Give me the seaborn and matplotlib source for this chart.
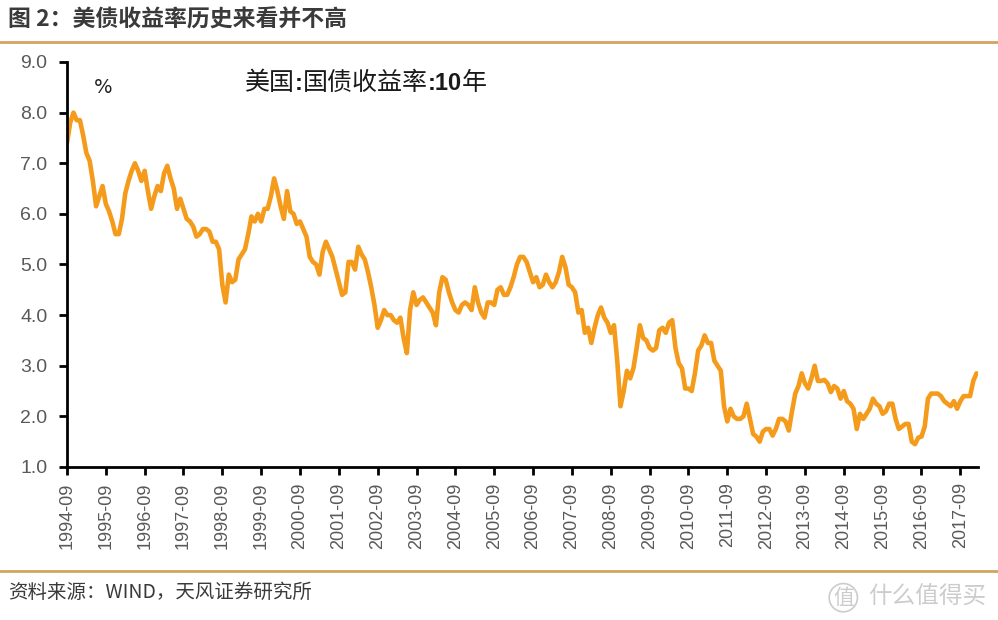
import numpy as np
import pandas as pd
import seaborn as sns
import matplotlib.pyplot as plt

# ---- data (US 10Y Treasury yield, %, monthly, 1994-09 .. 2018-02) ----
y1994 = [7.40, 7.80, 8.00, 7.85]
y1995 = [7.85, 7.55, 7.20, 7.05, 6.65, 6.15, 6.35, 6.55, 6.20, 6.05, 5.85, 5.60]
y1996 = [5.60, 5.90, 6.40, 6.65, 6.85, 7.00, 6.85, 6.65, 6.85, 6.45, 6.10, 6.35]
y1997 = [6.55, 6.45, 6.80, 6.95, 6.70, 6.50, 6.10, 6.30, 6.10, 5.90, 5.85, 5.75]
y1998 = [5.55, 5.60, 5.70, 5.70, 5.65, 5.45, 5.45, 5.30, 4.60, 4.25, 4.80, 4.65]
y1999 = [4.70, 5.10, 5.20, 5.30, 5.60, 5.95, 5.85, 6.00, 5.85, 6.10, 6.10, 6.35]
y2000 = [6.70, 6.45, 6.15, 5.90, 6.45, 6.05, 6.00, 5.80, 5.85, 5.70, 5.55, 5.15]
y2001 = [5.05, 5.00, 4.80, 5.25, 5.45, 5.30, 5.15, 4.90, 4.65, 4.40, 4.45, 5.05]
y2002 = [5.05, 4.90, 5.35, 5.20, 5.10, 4.85, 4.55, 4.20, 3.75, 3.90, 4.10, 4.00]
y2003 = [4.00, 3.90, 3.85, 3.95, 3.55, 3.25, 4.10, 4.45, 4.20, 4.30, 4.35, 4.25]
y2004 = [4.15, 4.05, 3.80, 4.45, 4.75, 4.70, 4.45, 4.25, 4.10, 4.05, 4.20, 4.25]
y2005 = [4.20, 4.10, 4.55, 4.25, 4.05, 3.95, 4.25, 4.25, 4.20, 4.50, 4.55, 4.40]
y2006 = [4.40, 4.55, 4.75, 5.00, 5.15, 5.15, 5.05, 4.85, 4.65, 4.75, 4.55, 4.60]
y2007 = [4.80, 4.65, 4.55, 4.65, 4.85, 5.15, 4.95, 4.60, 4.55, 4.45, 4.05, 4.10]
y2008 = [3.65, 3.75, 3.45, 3.75, 4.00, 4.15, 3.95, 3.85, 3.65, 3.80, 3.10, 2.20]
y2009 = [2.50, 2.90, 2.75, 2.95, 3.35, 3.80, 3.55, 3.50, 3.35, 3.30, 3.35, 3.70]
y2010 = [3.75, 3.65, 3.85, 3.90, 3.35, 3.05, 2.95, 2.55, 2.55, 2.50, 2.85, 3.30]
y2011 = [3.40, 3.60, 3.45, 3.45, 3.10, 3.00, 2.90, 2.20, 1.90, 2.15, 2.00, 1.95]
y2012 = [1.95, 2.00, 2.25, 1.95, 1.65, 1.60, 1.50, 1.70, 1.75, 1.75, 1.62, 1.75]
y2013 = [1.95, 1.95, 1.90, 1.72, 2.10, 2.45, 2.60, 2.85, 2.65, 2.55, 2.75, 3.00]
y2014 = [2.70, 2.70, 2.72, 2.65, 2.48, 2.60, 2.55, 2.35, 2.50, 2.30, 2.25, 2.15]
y2015 = [1.75, 2.05, 1.95, 2.05, 2.15, 2.35, 2.25, 2.20, 2.05, 2.10, 2.25, 2.25]
y2016 = [1.95, 1.75, 1.80, 1.85, 1.85, 1.50, 1.45, 1.58, 1.60, 1.80, 2.35, 2.45]
y2017 = [2.45, 2.45, 2.40, 2.30, 2.25, 2.20, 2.30, 2.15, 2.30, 2.40, 2.40, 2.40]
y2018 = [2.70, 2.85]

values = (y1994 + y1995 + y1996 + y1997 + y1998 + y1999 + y2000 + y2001 + y2002
          + y2003 + y2004 + y2005 + y2006 + y2007 + y2008 + y2009 + y2010 + y2011
          + y2012 + y2013 + y2014 + y2015 + y2016 + y2017 + y2018)
months = [p.strftime('%Y-%m') for p in pd.period_range('1994-09', '2018-02', freq='M')]
tick_labels = months[::12]
y_ticks = [1.0, 2.0, 3.0, 4.0, 5.0, 6.0, 7.0, 8.0, 9.0]

title = '图 2：美债收益率历史来看并不高'
source = '资料来源：WIND，天风证券研究所'

# ---- style ----
sns.set_theme(style='ticks')
plt.rcParams['font.family'] = ['Noto Sans CJK SC', 'DejaVu Sans']

df = pd.DataFrame({'idx': np.arange(len(values)), 'yield': values})

fig = plt.figure(figsize=(9.98, 6.2), dpi=100)
fig.patch.set_facecolor('white')
ax = fig.add_axes([0.0671, 0.2468, 0.913, 0.6532])

sns.lineplot(data=df, x='idx', y='yield', color='#F59B1B', linewidth=3.3, ax=ax)

ax.set_xlim(0, len(values) - 0.5)
ax.set_ylim(1, 9)
ax.set_xticks(np.arange(0, len(values), 12))
ax.set_xticklabels(tick_labels, rotation=90, fontfamily='Liberation Sans', fontsize=13)
ax.set_yticks(y_ticks)
ax.set_yticklabels([f'{v:.1f}' for v in y_ticks], fontfamily='Liberation Sans', fontsize=14)
ax.set_xlabel('')
ax.set_ylabel('')
for s in ['top', 'right']:
    ax.spines[s].set_visible(False)
for s in ['left', 'bottom']:
    ax.spines[s].set_linewidth(2)
    ax.spines[s].set_color('black')
ax.tick_params(axis='both', direction='out', length=6, width=2, color='black',
               labelcolor='#595959')
ax.tick_params(axis='y', pad=8)
ax.tick_params(axis='x', pad=5)

# in-plot texts
ax.text(0.04, 0.936, '%', transform=ax.transAxes, ha='center', va='center',
        fontsize=14, color='#222222', fontfamily='DejaVu Sans')
t1 = ax.text(0.195, 0.948, '美国', transform=ax.transAxes, ha='left', va='center',
             fontsize=18, color='#1a1a1a')
t2 = ax.annotate(':', xy=(1, 0.5), xycoords=t1, ha='left', va='center',
                 fontsize=17, fontweight='bold', color='#1a1a1a', fontfamily='Liberation Sans')
t3 = ax.annotate('国债收益率', xy=(1, 0.5), xycoords=t2, ha='left', va='center',
                 fontsize=18, color='#1a1a1a')
t4 = ax.annotate(':10', xy=(1, 0.5), xycoords=t3, ha='left', va='center',
                 fontsize=17, fontweight='bold', color='#1a1a1a', fontfamily='Liberation Sans')
t5 = ax.annotate('年', xy=(1, 0.5), xycoords=t4, ha='left', va='center',
                 fontsize=18, color='#1a1a1a')

# header / footer
fig.text(0.008, 0.968, title, ha='left', va='center', fontsize=16.5,
         fontweight='bold', color='#3a3a3a')
fig.add_artist(plt.Line2D([0, 1], [0.932, 0.932], transform=fig.transFigure,
                          color='#D4A35F', linewidth=2))
fig.add_artist(plt.Line2D([0, 1], [0.079, 0.079], transform=fig.transFigure,
                          color='#D4A35F', linewidth=2))
fig.text(0.008, 0.044, source, ha='left', va='center', fontsize=14, color='#3a3a3a')

# watermark
fig.text(0.845, 0.036, '值', ha='center', va='center', fontsize=15, color='#cccccc',
         bbox=dict(boxstyle='circle,pad=0.15', fc='none', ec='#cccccc', lw=1.2))
fig.text(0.870, 0.036, '什么值得买', ha='left', va='center', fontsize=17, color='#cccccc')

fig.savefig('out.png', dpi=100)
